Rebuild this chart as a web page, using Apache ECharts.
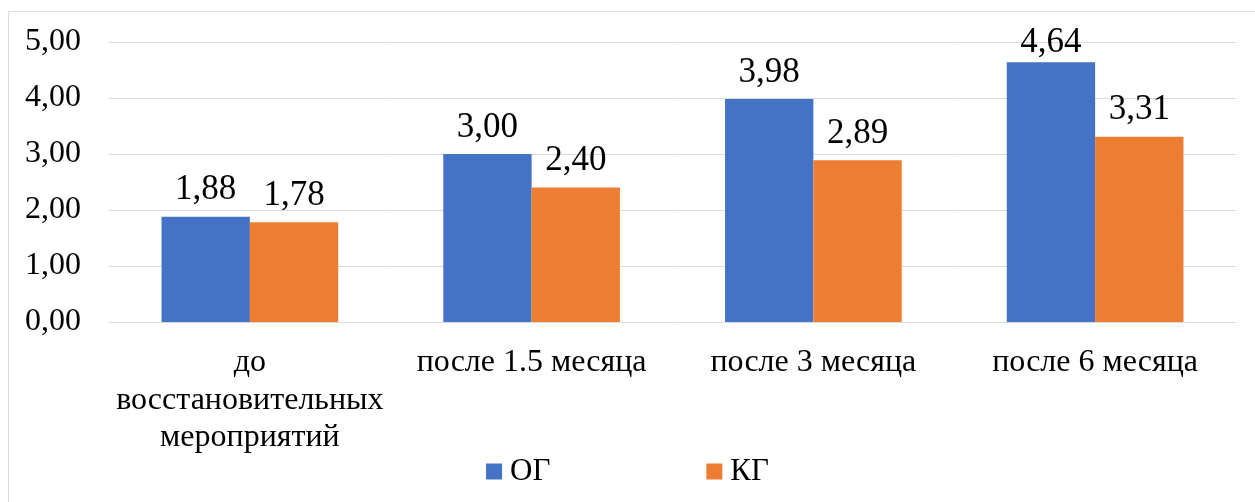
<!DOCTYPE html>
<html>
<head>
<meta charset="utf-8">
<script src="https://cdn.jsdelivr.net/npm/echarts@6/dist/echarts.min.js"></script>
<style>
  html, body { margin: 0; padding: 0; background: #fff; }
  #chart { width: 1255px; height: 502px; }
</style>
</head>
<body>
<div id="chart"></div>
<script>
// Categories (time points) and group values
const categories = ['до\nвосстановительных\nмероприятий', 'после 1.5 месяца', 'после 3 месяца', 'после 6 месяца'];
const seriesNames = ['ОГ', 'КГ'];
const ogValues = [1.88, 3.00, 3.98, 4.64];
const kgValues = [1.78, 2.40, 2.89, 3.31];
const yTicks = { min: 0, max: 5, interval: 1 };

const FONT = 'Liberation Serif';
const fmt = v => v.toFixed(2).replace('.', ',');

// Value labels sit above the bars; near the top of the plot they are
// pulled closer to the bar so they stay inside the chart frame.
const withLabels = values => values.map(v => ({
  value: v,
  label: { distance: v / yTicks.max > 0.9 ? 2 : 9 }
}));

const labelStyle = {
  show: true, position: 'top',
  fontFamily: FONT, fontSize: 35, color: '#000',
  formatter: p => fmt(p.value)
};

const chart = echarts.init(document.getElementById('chart'));
chart.setOption({
  animation: false,
  textStyle: { fontFamily: FONT, color: '#000' },
  graphic: [{
    type: 'rect',
    shape: { x: 8.5, y: 11.5, width: 1260, height: 500 },
    style: { fill: 'none', stroke: '#d9d9d9', lineWidth: 1 }
  }],
  grid: { left: 109, right: 19, top: 42, bottom: 180, containLabel: false },
  legend: {
    data: seriesNames,
    bottom: 10,
    left: 'center',
    itemWidth: 16,
    itemHeight: 16,
    itemGap: 156,
    icon: 'rect',
    textStyle: { fontFamily: FONT, fontSize: 31, color: '#000', padding: [0, 0, 0, 3] }
  },
  xAxis: {
    type: 'category',
    data: categories,
    axisLine: { show: true, lineStyle: { color: '#d9d9d9', width: 1 } },
    axisTick: { show: false },
    axisLabel: {
      fontFamily: FONT, fontSize: 32, color: '#000',
      margin: 22, lineHeight: 37.5, interval: 0
    }
  },
  yAxis: {
    type: 'value',
    min: yTicks.min, max: yTicks.max, interval: yTicks.interval,
    axisLine: { show: false },
    axisTick: { show: false },
    splitLine: { lineStyle: { color: '#d9d9d9', width: 1 } },
    axisLabel: {
      fontFamily: FONT, fontSize: 32, color: '#000', margin: 28,
      formatter: v => fmt(v)
    }
  },
  series: [
    {
      name: seriesNames[0], type: 'bar', data: withLabels(ogValues),
      itemStyle: { color: '#4472C4' },
      barGap: '0%', barCategoryGap: '37.3%',
      label: labelStyle
    },
    {
      name: seriesNames[1], type: 'bar', data: withLabels(kgValues),
      itemStyle: { color: '#ED7D31' },
      barGap: '0%', barCategoryGap: '37.3%',
      label: labelStyle
    }
  ]
});
</script>
</body>
</html>
